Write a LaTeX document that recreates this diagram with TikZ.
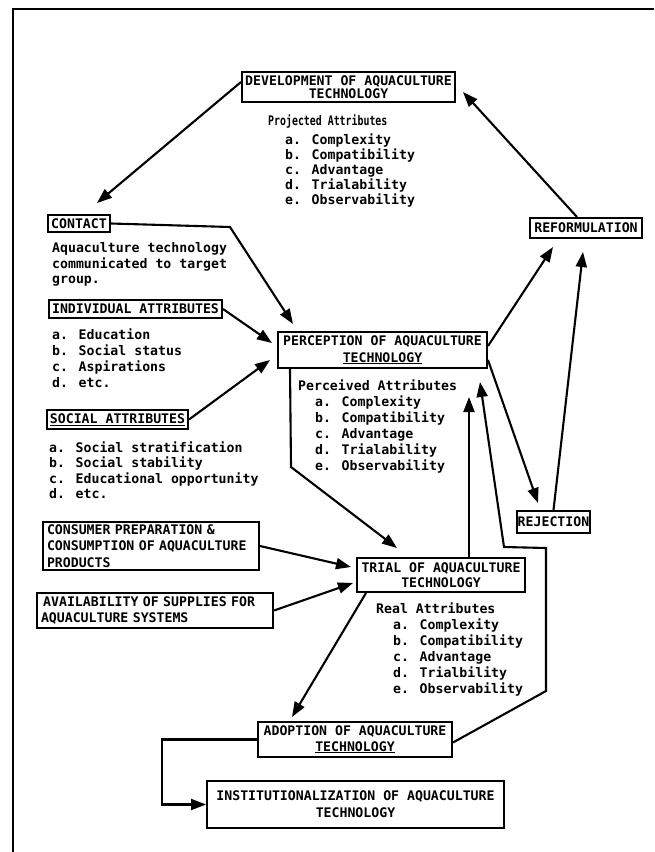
\documentclass[tikz,border=0pt]{standalone}
\usepackage{fontspec}
\newfontfamily\tw{DejaVu Sans Mono}
\usetikzlibrary{arrows.meta}
\begin{document}
\begin{tikzpicture}[x=1pt,y=-1pt,
  every node/.style={font=\tw\bfseries\fontsize{13.2}{15.5}\selectfont, inner sep=0pt},
  box/.style={draw, line width=2pt, align=center},
  txt/.style={align=left, anchor=north west},
  arr/.style={line width=2.1pt, -{Triangle[length=15pt,width=11pt]}}]
\useasboundingbox (0,0) rectangle (654,852);
\fill[white] (0,0) rectangle (654,852);
% frame
\draw[line width=2.6pt] (13,852) -- (13,9) -- (654,9);

% boxes
\node[box, minimum width=213pt, minimum height=30pt, font=\tw\bfseries\fontsize{13.2}{13.5}\selectfont] (dev) at (348.5,87) {DEVELOPMENT OF AQUACULTURE\\TECHNOLOGY};
\node[box, minimum width=62pt, minimum height=17pt] (contact) at (79,223.5) {CONTACT};
\node[box, minimum width=173pt, minimum height=18pt] (indiv) at (135.5,309) {INDIVIDUAL ATTRIBUTES};
\node[box, minimum width=141pt, minimum height=19pt] (social) at (117.5,419.5) {\underline{SOCIAL ATTRIBUTES}};
\node[box, minimum width=209pt, minimum height=36pt, font=\tw\bfseries\fontsize{13.2}{16.5}\selectfont] (perc) at (382.5,350) {PERCEPTION OF AQUACULTURE\\\underline{TECHNOLOGY}};
\node[box, minimum width=112pt, minimum height=20pt] (reform) at (586,228) {REFORMULATION};
\node[box, minimum width=73pt, minimum height=22pt] (reject) at (553.5,522) {REJECTION};
\node[box, minimum width=216pt, minimum height=48pt, align=left, text width=208pt, font=\tw\bfseries\fontsize{13.2}{16.5}\selectfont] (consumer) at (151,546) {CONSUMER PREPARATION \&\\CONSUMPTION OF AQUACULTURE\\PRODUCTS};
\node[box, minimum width=236pt, minimum height=35pt, align=left, text width=228pt] (avail) at (155,610.5) {\,AVAILABILITY OF SUPPLIES FOR\\AQUACULTURE SYSTEMS};
\node[box, minimum width=168pt, minimum height=34pt] (trial) at (441,575) {TRIAL OF AQUACULTURE\\TECHNOLOGY};
\node[box, minimum width=194pt, minimum height=35pt] (adopt) at (355,739.5) {ADOPTION OF AQUACULTURE\\\underline{TECHNOLOGY}};
\node[box, minimum width=297pt, minimum height=47pt, font=\tw\bfseries\fontsize{13.2}{17}\selectfont] (inst) at (355.5,804.5) {INSTITUTIONALIZATION OF AQUACULTURE\\TECHNOLOGY};

% free texts
\node[txt] (projh) at (268,114.5) {\scalebox{0.75}[1]{Projected Attributes}};
\node[txt, font=\tw\bfseries\fontsize{13.2}{15}\selectfont] (projl) at (285,133.5) {a. Complexity\\b. Compatibility\\c. Advantage\\d. Trialability\\e. Observability};
\node[txt] (cdesc) at (52,242.5) {Aquaculture technology\\communicated to target\\group.};
\node[txt, font=\tw\bfseries\fontsize{13.2}{16}\selectfont] (indl) at (52,328.5) {a. Education\\b. Social status\\c. Aspirations\\d. etc.};
\node[txt, font=\tw\bfseries\fontsize{13.2}{15.4}\selectfont] (socl) at (49,441.5) {a. Social stratification\\b. Social stability\\c. Educational opportunity\\d. etc.};
\node[txt, font=\tw\bfseries\fontsize{13.2}{16}\selectfont] (percl) at (298,379.5) {Perceived Attributes\\\hspace*{17pt}a. Complexity\\\hspace*{17pt}b. Compatibility\\\hspace*{17pt}c. Advantage\\\hspace*{17pt}d. Trialability\\\hspace*{17pt}e. Observability};
\node[txt, font=\tw\bfseries\fontsize{13.2}{16}\selectfont] (reall) at (376,602.5) {Real Attributes\\\hspace*{17pt}a. Complexity\\\hspace*{17pt}b. Compatibility\\\hspace*{17pt}c. Advantage\\\hspace*{17pt}d. Trialbility\\\hspace*{17pt}e. Observability};

% arrow tip coordinates
\coordinate (tContact) at (97,203);
\coordinate (tPerc1) at (293,324);
\coordinate (tPerc2) at (272,343);
\coordinate (tPerc3) at (270,360);
\coordinate (tReform1) at (553,247);
\coordinate (tReform2) at (583,252);
\coordinate (tReject) at (538,503);
\coordinate (tDev) at (463,92);
\coordinate (tTrial0) at (397,548);
\coordinate (tTrial1) at (351,567);
\coordinate (tTrial2) at (353,583);
\coordinate (tPerc4) at (469,397);
\coordinate (tPerc5) at (480,382);
\coordinate (tAdopt) at (292,717);

% connectors
\draw[arr] ([yshift=5pt]dev.west) -- (tContact);
\draw[arr] (contact.east) -- (230,227) -- (tPerc1);
\draw[arr] (indiv.east) -- (tPerc2);
\draw[arr] (social.east) -- (tPerc3);
\draw[arr] ([yshift=4pt]perc.east) -- (tReform1);
\draw[arr] ([yshift=-10pt]perc.east) -- (tReject);
\draw[arr] (reject.north) -- (tReform2);
\draw[arr] ([xshift=-9pt]reform.north) -- (tDev);
\draw[arr] ([xshift=13pt]perc.south west) -- (291,467) -- (tTrial0);
\draw[arr] (consumer.east) -- (tTrial1);
\draw[arr] (avail.east) -- (tTrial2);
\draw[arr] ([xshift=28pt]trial.north) -- (tPerc4);
\draw[arr] ([xshift=10pt]trial.south west) -- (tAdopt);
\draw[arr] ([yshift=-3pt]adopt.east) -- (546,691) -- (546,548) -- (504,547) -- (tPerc5);
\draw[arr] (adopt.west) -- (162,739.5) |- (inst.west);
\end{tikzpicture}
\end{document}
